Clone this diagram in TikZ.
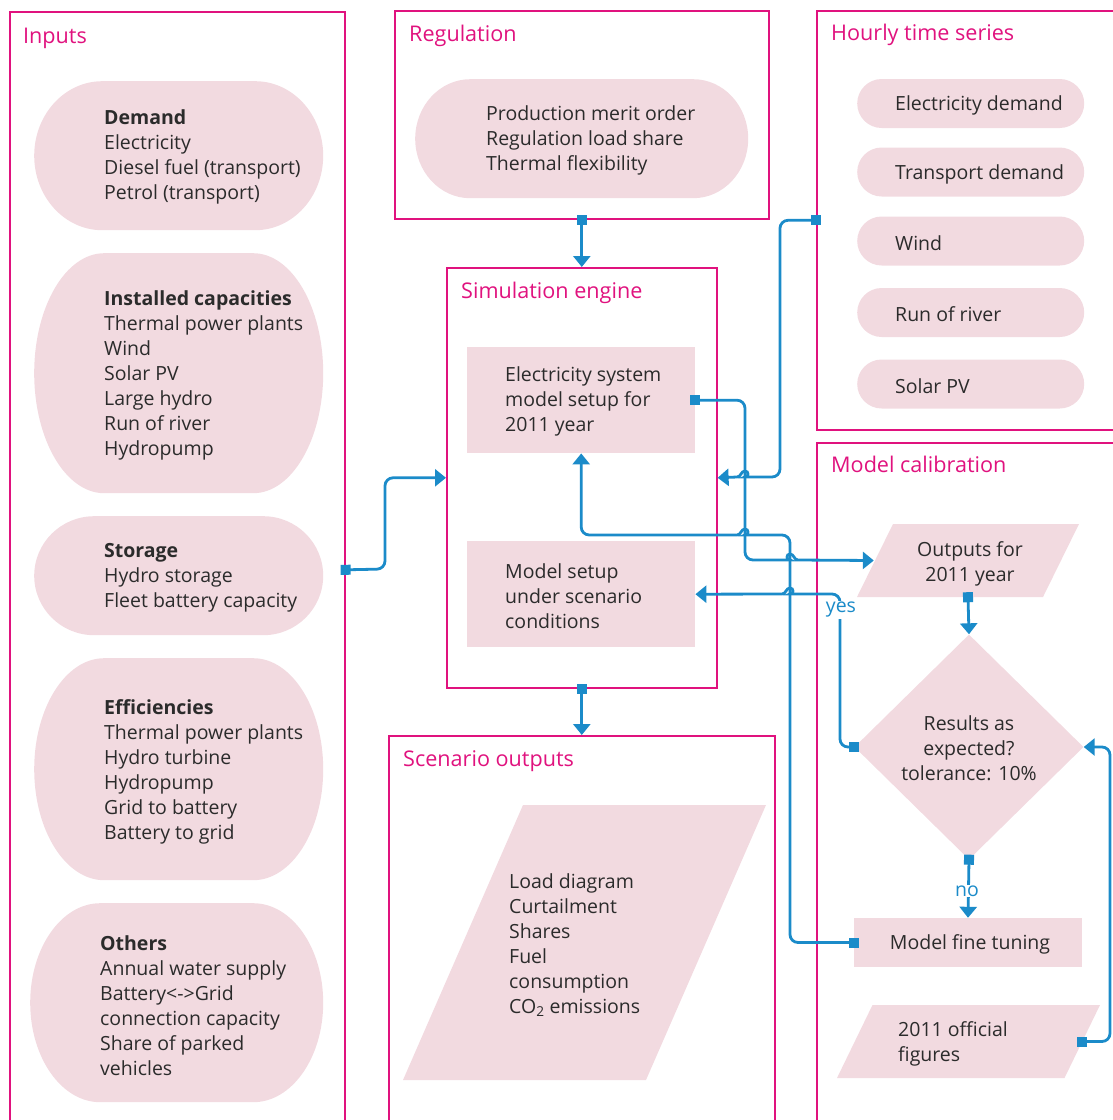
\documentclass[tikz,border=0pt]{standalone}
\usepackage{fontspec}
\setmainfont{Open Sans}
\usetikzlibrary{arrows.meta,shapes.geometric,calc}
\definecolor{frame}{HTML}{E0127E}
\definecolor{flowblue}{HTML}{1B8BC9}
\definecolor{pinkfill}{HTML}{F2DAE0}
\definecolor{ink}{HTML}{2B2B2B}
\begin{document}
\begin{tikzpicture}[x=1pt,y=-1pt,
  font=\fontsize{19.5}{25}\selectfont,
  box/.style={draw=frame, line width=1.6pt, inner sep=0pt, anchor=north west},
  title/.style={text=frame, anchor=base west, inner sep=0pt, font=\fontsize{21.6}{26}\selectfont},
  txt/.style={text=ink, align=left, anchor=west, inner sep=0pt, yshift=-2pt},
  ctxt/.style={text=ink, align=center, inner sep=0pt},
  rectfill/.style={fill=pinkfill, inner sep=0pt},
  pill/.style={inner sep=0pt, path picture={
    \fill[pinkfill] let \p1=(path picture bounding box.north west),
                        \p2=(path picture bounding box.south east),
                        \n1={(\y1-\y2)/2} in
      (\x1+#1,\y1) -- (\x2-#1,\y1)
      arc[start angle=90, end angle=-90, x radius=#1, y radius=\n1]
      -- (\x1+#1,\y2)
      arc[start angle=270, end angle=90, x radius=#1, y radius=\n1]
      -- cycle;}},
  slant/.style={inner sep=0pt, path picture={
    \fill[pinkfill] let \p1=(path picture bounding box.north west),
                        \p2=(path picture bounding box.south east) in
      (\x1+#1,\y1) -- (\x2,\y1) -- (\x2-#1,\y2) -- (\x1,\y2) -- cycle;}},
  flow/.style={draw=flowblue, line width=2.8pt, rounded corners=8pt,
    arrows={Square[length=10pt,width=10pt]-Triangle[length=11pt,width=17pt]},
    shorten <=-5pt},
  flowlabel/.style={fill=white, text=flowblue, inner sep=1pt}
]
\useasboundingbox (0,0) rectangle (1113,1120);
\clip (0,0) rectangle (1113,1120);

% group frames
\node[box, minimum width=335pt, minimum height=1116pt] (inputs) at (9,11) {};
\node[box, minimum width=374pt, minimum height=208pt] (reg) at (394,10) {};
\node[box, minimum width=310pt, minimum height=419pt] (hourly) at (816,10) {};
\node[box, minimum width=310pt, minimum height=700pt] (calib) at (816,442) {};
\node[box, minimum width=270pt, minimum height=420pt] (sim) at (446,267) {};
\node[box, minimum width=386pt, minimum height=400pt] (scen) at (388,735) {};

% group titles
\node[title] (inputsT) at (23,43) {Inputs};
\node[title] (regT) at (409,41) {Regulation};
\node[title] (hourlyT) at (831,40) {Hourly time series};
\node[title] (simT) at (461,298) {Simulation engine};
\node[title] (calibT) at (831,472) {Model calibration};
\node[title] (scenT) at (403,766) {Scenario outputs};

% inputs
\node[pill=68pt, minimum width=289pt, minimum height=149pt, anchor=north west] (demand) at (34,81) {};
\node[txt] (demandT) at (104,155) {\textbf{Demand}\\Electricity\\Diesel fuel (transport)\\Petrol (transport)};
\node[pill=70pt, minimum width=289pt, minimum height=240pt, anchor=north west] (capac) at (34,253) {};
\node[txt] (capacT) at (104,373) {\textbf{Installed capacities}\\Thermal power plants\\Wind\\Solar PV\\Large hydro\\Run of river\\Hydropump};
\node[pill=60pt, minimum width=289pt, minimum height=119pt, anchor=north west] (storage) at (34,516) {};
\node[txt] (storageT) at (104,576) {\textbf{Storage}\\Hydro storage\\Fleet battery capacity};
\node[pill=70pt, minimum width=289pt, minimum height=222pt, anchor=north west] (effic) at (34,658) {};
\node[txt] (efficT) at (104,769.5) {\textbf{Efficiencies}\\Thermal power plants\\Hydro turbine\\Hydropump\\Grid to battery\\Battery to grid};
\node[pill=70pt, minimum width=293pt, minimum height=199pt, anchor=north west] (others) at (30,903) {};
\node[txt] (othersT) at (100,1003.5) {\textbf{Others}\\Annual water supply\\Battery<->Grid\\connection capacity\\Share of parked\\vehicles};

% regulation
\node[pill=55pt, minimum width=333pt, minimum height=119pt, anchor=north west] (regpill) at (415,79) {};
\node[txt] (regpillT) at (486,138) {Production merit order\\Regulation load share\\Thermal flexibility};

% hourly time series
\node[pill=24.5pt, minimum width=227pt, minimum height=49pt, anchor=west] (hElec) at (857,103.5) {};
\node[txt] (hElecT) at (895,103.5) {Electricity demand};
\node[pill=24.5pt, minimum width=227pt, minimum height=49pt, anchor=west] (hTrans) at (857,172) {};
\node[txt] (hTransT) at (895,172) {Transport demand};
\node[pill=24.5pt, minimum width=227pt, minimum height=49pt, anchor=west] (hWind) at (857,241) {};
\node[txt] (hWindT) at (895,241) {Wind};
\node[pill=24.5pt, minimum width=227pt, minimum height=49pt, anchor=west] (hRiver) at (857,312.5) {};
\node[txt] (hRiverT) at (895,312.5) {Run of river};
\node[pill=24.5pt, minimum width=227pt, minimum height=49pt, anchor=west] (hSolar) at (857,384) {};
\node[txt] (hSolarT) at (895,384) {Solar PV};

% simulation engine
\node[rectfill, minimum width=228pt, minimum height=106pt, anchor=north west] (esm) at (467,347) {};
\node[txt] (esmT) at (505,399) {Electricity system\\model setup for\\2011 year};
\node[rectfill, minimum width=228pt, minimum height=106pt, anchor=north west] (mss) at (467,541) {};
\node[txt] (mssT) at (505,594) {Model setup\\under scenario\\conditions};

% scenario outputs
\node[slant=120pt, minimum width=363pt, minimum height=275pt] (scenpara) at (584.5,942.5) {};
\node[txt] (scenparaT) at (509,943.5) {Load diagram\\Curtailment\\Shares\\Fuel\\consumption\\CO\textsubscript{2} emissions};

% model calibration
\node[slant=36pt, minimum width=222pt, minimum height=73pt] (out11) at (968,560.5) {};
\node[ctxt] (out11T) at (970,564) {Outputs for\\2011 year};
\node[diamond, fill=pinkfill, minimum width=229pt, minimum height=225pt, inner sep=0pt] (dia) at (969,747) {};
\node[ctxt] (diaT) at (969,748.5) {Results as\\expected?\\tolerance: 10\%};
\node[rectfill, minimum width=228pt, minimum height=49pt] (ft) at (968,942.5) {};
\node[ctxt] (ftT) at (970,944.5) {Model fine tuning};
\node[slant=35.5pt, minimum width=263pt, minimum height=73pt] (off) at (968.5,1041.5) {};
\node[txt] (offT) at (898,1042) {2011 official\\figures};

% connectors (bumps mark crossings without a junction)
\draw[flow] (inputs.east) -- (385,569) |- (sim.west);
\draw[flow] (reg.south) -- (sim.north);
\draw[flow] (sim.south) -- (scen.north);
\draw[flow] (hourly.west) -| (780,477) -- (753,477) [sharp corners]
  .. controls (749,477) and (749,471) .. (745,471)
  .. controls (741,471) and (741,477) .. (737,477) -- (sim.east);
\draw[flow] (esm.east) -| (745,560) -- (782,560) [sharp corners]
  .. controls (786,560) and (786,554) .. (790,554)
  .. controls (794,554) and (794,560) .. (798,560) -- ([xshift=17pt]out11.west);
\draw[flow] (ft.west) -| (790,535) -- (753,535) [sharp corners]
  .. controls (749,535) and (749,529) .. (745,529)
  .. controls (741,529) and (741,535) .. (737,535) [rounded corners=8pt] -| (esm.south);
\draw[flow] (dia.west) -| (840,594) -- (798,594) [sharp corners]
  .. controls (794,594) and (794,588) .. (790,588)
  .. controls (786,588) and (786,594) .. (782,594) -- (mss.east);
\node[flowlabel] (yesL) at (841,610) {yes};
\draw[flow] (out11.south) -- (dia.north);
\draw[flow] (dia.south) -- (ft.north);
\node[flowlabel] (noL) at (967,891) {no};
\draw[flow] ([xshift=-18pt]off.east) -| (1110,747) -- (dia.east);
\end{tikzpicture}
\end{document}
